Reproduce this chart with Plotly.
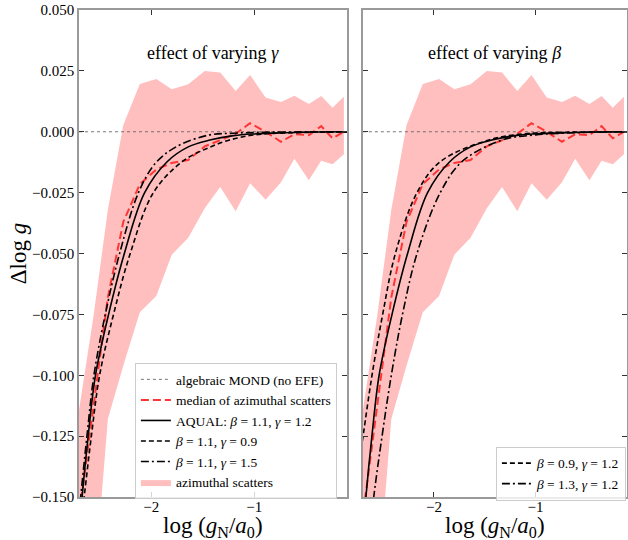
import plotly.graph_objects as go

# ---------------- data ----------------
band_x = [-2.71, -2.56, -2.42, -2.27, -2.11, -1.95, -1.80, -1.64, -1.48, -1.33,
          -1.18, -1.04, -0.89, -0.74, -0.61, -0.47, -0.35, -0.24, -0.13]
band_hi = [-0.117, -0.076, -0.032, 0.0028, 0.0196, 0.0217, 0.0175, 0.0195, 0.0249, 0.0243,
           0.0167, 0.0233, 0.0141, 0.0122, 0.0148, 0.0114, 0.0147, 0.0099, 0.0144]
band_lo = [-0.27, -0.193, -0.118, -0.096, -0.0741, -0.0675, -0.0505, -0.0435, -0.0314, -0.0227,
           -0.0326, -0.0211, -0.0279, -0.0207, -0.0111, -0.0199, -0.0119, -0.0133, -0.0092]
median_y = [-0.161, -0.113, -0.068, -0.037, -0.0215, -0.0155, -0.0128, -0.0116, -0.006, -0.0035,
            -0.0008, 0.0035, 0.0, -0.0041, -0.001, -0.0014, 0.0023, -0.0027, 0.0]

aqual_x = [-2.72, -2.67, -2.611, -2.54, -2.413, -2.26, -2.063, -1.845, -1.64, -1.43, -1.2, -1.0, -0.7, -0.4, -0.1]
aqual_y = [-0.176, -0.150, -0.125, -0.100, -0.075, -0.050, -0.025, -0.0123, -0.0062, -0.0034,
           -0.0016, -0.0009, -0.0004, -0.0001, 0.0]

gam09_x = [-2.70, -2.65, -2.58, -2.50, -2.365, -2.203, -1.978, -1.70, -1.445, -1.24, -0.98, -0.63, -0.1]
gam09_y = [-0.168, -0.150, -0.125, -0.100, -0.075, -0.050, -0.025, -0.0123, -0.0066, -0.0034,
           -0.0012, -0.0004, -0.0001]

gam15_x = [-2.72, -2.684, -2.623, -2.555, -2.445, -2.306, -2.123, -1.96, -1.758, -1.445, -1.2, -0.9, -0.1]
gam15_y = [-0.165, -0.150, -0.125, -0.100, -0.075, -0.050, -0.025, -0.013, -0.0062, -0.0014,
           -0.0006, -0.0002, 0.0]

beta09_x = [-2.75, -2.698, -2.61, -2.505, -2.38, -2.167, -1.938, -1.46, -1.1, -0.7, -0.1]
beta09_y = [-0.140, -0.125, -0.100, -0.075, -0.050, -0.025, -0.0123, -0.0034, -0.0008, -0.0002, 0.0]

beta13_x = [-2.70, -2.593, -2.511, -2.42, -2.31, -2.167, -1.938, -1.725, -1.33, -1.0, -0.6, -0.1]
beta13_y = [-0.19, -0.150, -0.125, -0.100, -0.075, -0.050, -0.025, -0.0123, -0.0034, -0.0013, -0.0004, 0.0]

x_range = [-2.7, -0.1]
y_range = [-0.15, 0.05]
x_ticks = [-2, -1]
x_ticktext = ["\u22122", "\u22121"]
y_ticks = [0.05, 0.025, 0.0, -0.025, -0.05, -0.075, -0.1, -0.125, -0.15]
y_ticktext = ["0.050", "0.025", "0.000", "\u22120.025", "\u22120.050", "\u22120.075",
              "\u22120.100", "\u22120.125", "\u22120.150"]

# ---------------- styling ----------------
FONT = "Liberation Serif"
BAND = "rgb(255,191,191)"
RED = "#ff3535"
SPINE = "#9a9a9a"
TICK = "#333333"

fig = go.Figure()


def add_panel(xa, ya, curves, legend_name, main_legend):
    # band
    fig.add_trace(go.Scatter(x=band_x, y=band_lo, xaxis=xa, yaxis=ya, mode="lines",
                             line=dict(width=0, color=BAND), showlegend=False, hoverinfo="skip"))
    fig.add_trace(go.Scatter(x=band_x, y=band_hi, xaxis=xa, yaxis=ya, mode="lines",
                             line=dict(width=0, color=BAND), fill="tonexty", fillcolor=BAND,
                             name="azimuthal scatters", showlegend=main_legend,
                             legend="legend", legendrank=6))
    # algebraic MOND line
    fig.add_trace(go.Scatter(x=x_range, y=[0, 0], xaxis=xa, yaxis=ya, mode="lines",
                             line=dict(width=0.8, color="#555555", dash="dot"),
                             name="algebraic MOND (no EFE)", showlegend=main_legend,
                             legend="legend", legendrank=1))
    # median
    fig.add_trace(go.Scatter(x=band_x, y=median_y, xaxis=xa, yaxis=ya, mode="lines",
                             line=dict(width=2, color=RED, dash="8px,4px"),
                             name="median of azimuthal scatters", showlegend=main_legend,
                             legend="legend", legendrank=2))
    # AQUAL
    fig.add_trace(go.Scatter(x=aqual_x, y=aqual_y, xaxis=xa, yaxis=ya, mode="lines",
                             line=dict(width=1.6, color="black", shape="spline"),
                             name="AQUAL: <i>\u03b2</i> = 1.1, <i>\u03b3</i> = 1.2",
                             showlegend=main_legend, legend="legend", legendrank=3))
    for (cx, cy, nm, dash, rank) in curves:
        fig.add_trace(go.Scatter(x=cx, y=cy, xaxis=xa, yaxis=ya, mode="lines",
                                 line=dict(width=1.6, color="black", dash=dash, shape="spline"),
                                 name=nm, showlegend=True, legend=legend_name, legendrank=rank))


add_panel("x", "y",
          [(gam09_x, gam09_y, "<i>\u03b2</i> = 1.1, <i>\u03b3</i> = 0.9", "5px,3px", 4),
           (gam15_x, gam15_y, "<i>\u03b2</i> = 1.1, <i>\u03b3</i> = 1.5", "8px,3px,2px,3px", 5)],
          "legend", True)
add_panel("x2", "y2",
          [(beta09_x, beta09_y, "<i>\u03b2</i> = 0.9, <i>\u03b3</i> = 1.2", "5px,3px", 1),
           (beta13_x, beta13_y, "<i>\u03b2</i> = 1.3, <i>\u03b3</i> = 1.2", "8px,3px,2px,3px", 2)],
          "legend2", False)

axis_common = dict(showline=True, linecolor=SPINE, linewidth=1.5, mirror="allticks",
                   ticks="inside", ticklen=5, tickwidth=1, tickcolor=TICK,
                   showgrid=False, zeroline=False, ticklabeloverflow="allow",
                   tickfont=dict(family=FONT, size=15, color="black"))

fig.update_layout(
    width=628, height=540,
    margin=dict(l=79, r=1, t=10, b=43, autoexpand=False),
    paper_bgcolor="white", plot_bgcolor="white",
    font=dict(family=FONT, color="black"),
    xaxis=dict(domain=[0, 0.489], range=x_range, anchor="y", tickvals=x_ticks,
               ticktext=x_ticktext, ticklabelstandoff=-5, **axis_common),
    xaxis2=dict(domain=[0.518, 1.0], range=x_range, anchor="y2", tickvals=x_ticks,
                ticktext=x_ticktext, ticklabelstandoff=-5, **axis_common),
    yaxis=dict(domain=[0, 1], range=y_range, anchor="x", tickvals=y_ticks,
               ticktext=y_ticktext, ticklabelstandoff=0, **axis_common),
    yaxis2=dict(domain=[0, 1], range=y_range, anchor="x2", matches="y", tickvals=y_ticks,
                showticklabels=False, **axis_common),
    legend=dict(x=0.102, y=0.275, xanchor="left", yanchor="top",
                font=dict(family=FONT, size=13.5, color="black"),
                bordercolor="#cccccc", borderwidth=1, bgcolor="rgba(255,255,255,0.8)",
                traceorder="normal", tracegroupgap=0),
    legend2=dict(x=0.998, y=0.103, xanchor="right", yanchor="top",
                 font=dict(family=FONT, size=13.5, color="black"),
                 bordercolor="#cccccc", borderwidth=1, bgcolor="rgba(255,255,255,0.8)",
                 traceorder="normal"),
    showlegend=True,
)

ann_font_title = dict(family=FONT, size=18, color="black")
ann_font_lbl = dict(family=FONT, size=23, color="black")
fig.add_annotation(text="effect of varying <i>\u03b3</i>", xref="x domain", yref="y domain",
                   x=0.5, y=0.936, showarrow=False, font=ann_font_title)
fig.add_annotation(text="effect of varying <i>\u03b2</i>", xref="x2 domain", yref="y2 domain",
                   x=0.5, y=0.936, showarrow=False, font=ann_font_title)
fig.add_annotation(text="log (<i>g</i><sub>N</sub>/<i>a</i><sub>0</sub>)", xref="x domain",
                   yref="paper", x=0.5, y=-0.062, yanchor="middle", showarrow=False,
                   font=ann_font_lbl)
fig.add_annotation(text="log (<i>g</i><sub>N</sub>/<i>a</i><sub>0</sub>)", xref="x2 domain",
                   yref="paper", x=0.5, y=-0.062, yanchor="middle", showarrow=False,
                   font=ann_font_lbl)
fig.add_annotation(text="\u0394log <i>g</i>", xref="paper", yref="paper",
                   x=-0.109, y=0.499, xanchor="center", yanchor="middle", textangle=-90,
                   showarrow=False, font=dict(family=FONT, size=23, color="black"))

fig.write_html("out.html", post_script="document.body.style.margin='0';",
               config={"displayModeBar": False})
